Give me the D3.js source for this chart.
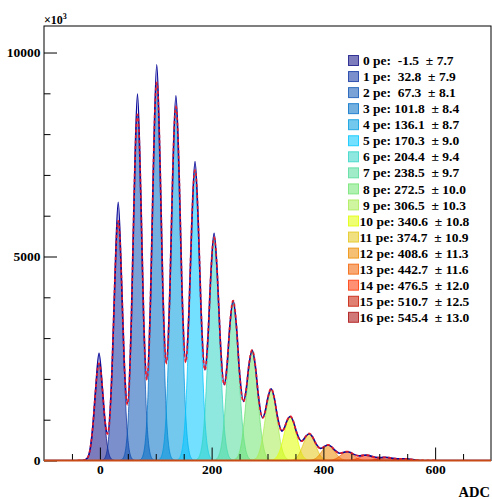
<!DOCTYPE html>
<html>
<head>
<meta charset="utf-8">
<script src="https://cdn.jsdelivr.net/npm/d3@7/dist/d3.min.js"></script>
<style>
  body { margin: 0; background: #fff; }
  svg text { font-family: "Liberation Serif", "Times New Roman", serif; font-weight: bold; fill: #000; }
</style>
</head>
<body>
<svg id="chart" width="492" height="499"></svg>
<script>
// Photo-electron peaks from the multi-gaussian fit
const peIndex = [0, 1, 2, 3, 4, 5, 6, 7, 8, 9, 10, 11, 12, 13, 14, 15, 16];
const peMeans = [-1.5, 32.8, 67.3, 101.8, 136.1, 170.3, 204.4, 238.5, 272.5, 306.5, 340.6, 374.7, 408.6, 442.7, 476.5, 510.7, 545.4];
const peSigmas = [7.7, 7.9, 8.1, 8.4, 8.7, 9.0, 9.4, 9.7, 10.0, 10.3, 10.8, 10.9, 11.3, 11.6, 12.0, 12.5, 13.0];
const peAmplitudes = [2380, 5870, 8480, 9260, 8660, 7100, 5450, 3900, 2690, 1745, 1075, 650, 375, 212, 128, 75, 40];
const peColors = ["#101085", "#0e33a2", "#0e55b4", "#006fc6", "#009be0", "#00c6ff", "#31d5c6", "#52dc9b",
                  "#6fe36f", "#a9ec52", "#e0ff00", "#e3c618", "#ec8c00", "#f26000", "#ff3500", "#c61800", "#a90909"];

// Measured ADC spectrum: [ADC, counts]
const spectrum = [
  [-100, 0], [-40, 0], [-30, 3], [-22, 69], [-17, 314], [-12.5, 858], [-7.5, 1757], [-1.5, 2630], [4.5, 1765], [9.5, 933], [13.5, 660],
  [21.8, 2255], [26.8, 4400], [32.8, 6330], [38.8, 4414], [43.8, 2357], [49.5, 1400],
  [56.3, 3446], [61.3, 6454], [67.3, 8980], [73.3, 6475], [78.3, 3558], [84.2, 1993],
  [90.8, 4052], [95.8, 7194], [101.8, 9700], [107.8, 7221], [112.8, 4165], [119.0, 2393],
  [125.1, 4096], [130.1, 6855], [136.1, 8940], [142.1, 6877], [147.1, 4153], [153.6, 2418],
  [159.3, 3611], [164.3, 5725], [170.3, 7330], [176.3, 5743], [181.3, 3632], [188.0, 2217],
  [193.4, 3010], [198.4, 4502], [204.4, 5570], [210.4, 4505], [215.4, 2976], [222.5, 1855],
  [227.5, 2318], [232.5, 3284], [238.5, 3920], [244.5, 3274], [249.5, 2242], [257.0, 1450],
  [261.5, 1703], [266.5, 2306], [272.5, 2700], [278.5, 2289], [283.5, 1613], [291.0, 1048],
  [295.5, 1179], [300.5, 1526], [306.5, 1755], [312.5, 1510], [317.5, 1097], [326.0, 720],
  [329.6, 781], [334.6, 964], [340.6, 1080], [346.6, 944], [351.6, 709], [360.6, 475],
  [363.7, 500], [368.7, 596], [374.7, 655], [380.7, 577], [385.7, 439], [395.0, 297],
  [397.6, 306], [402.6, 351], [408.6, 380], [414.6, 337], [419.6, 263], [429.5, 178],
  [436.7, 203], [442.7, 215], [448.7, 195], [453.7, 156], [464.0, 113],
  [470.5, 125], [476.5, 132], [482.5, 119], [487.5, 97], [498.0, 70],
  [504.7, 75], [510.7, 78], [516.7, 70], [521.7, 59], [532.0, 41],
  [539.4, 41], [545.4, 42], [551.4, 36], [556.4, 28], [565, 13], [570, 7], [580, 1], [590, 0], [700, 0]
];

const xMajorTicks = [0, 200, 400, 600];
const xMinorTicks = [-50, 50, 100, 150, 250, 300, 350, 450, 500, 550, 650];
const yMajorTicks = [0, 5000, 10000];
const yMinorTicks = [1000, 2000, 3000, 4000, 6000, 7000, 8000, 9000];
const xTitle = "ADC";

const svg = d3.select("#chart");
const plot = { left: 44, right: 491, top: 26, bottom: 460.5 };

const x = d3.scaleLinear().domain([-100, 700]).range([plot.left, plot.right]);
const y = d3.scaleLinear().domain([0, 10650]).range([plot.bottom, plot.top]);

const gauss = (k, v) => peAmplitudes[k] * Math.exp(-0.5 * Math.pow((v - peMeans[k]) / peSigmas[k], 2));

const clip = svg.append("clipPath").attr("id", "plotClip")
  .append("rect").attr("x", plot.left).attr("y", plot.top)
  .attr("width", plot.right - plot.left).attr("height", plot.bottom - plot.top);

const layer = svg.append("g").attr("clip-path", "url(#plotClip)");

// Individual peak components, filled and semi-transparent
peIndex.forEach(k => {
  const lo = peMeans[k] - 6 * peSigmas[k], hi = peMeans[k] + 6 * peSigmas[k];
  const xs = d3.range(lo, hi + 0.001, 0.5);
  const area = d3.area().x(v => x(v)).y0(y(0)).y1(v => y(gauss(k, v)));
  const line = d3.line().x(v => x(v)).y(v => y(gauss(k, v)));
  layer.append("path").attr("d", area(xs))
    .attr("fill", peColors[k]).attr("fill-opacity", 0.55).attr("stroke", "none");
  layer.append("path").attr("d", line(xs))
    .attr("fill", "none").attr("stroke", peColors[k]).attr("stroke-opacity", 0.75).attr("stroke-width", 1);
});

// Spectrum
layer.append("path")
  .attr("d", d3.line().x(d => x(d[0])).y(d => y(d[1])).curve(d3.curveMonotoneX)(spectrum))
  .attr("fill", "none").attr("stroke", "#0a0a9a").attr("stroke-width", 1.6);

// Total fit: sum of all components
const fitXs = d3.range(-40, 600.001, 0.5);
const totalFit = v => d3.sum(peIndex, k => gauss(k, v));
layer.append("path")
  .attr("d", d3.line().x(v => x(v)).y(v => y(totalFit(v)))(fitXs))
  .attr("fill", "none").attr("stroke", "#ff1a1a").attr("stroke-width", 1.8)
  .attr("stroke-dasharray", "3,2.5").attr("stroke-opacity", 0.85);

// Frame
svg.append("rect")
  .attr("x", plot.left).attr("y", plot.top)
  .attr("width", plot.right - plot.left).attr("height", plot.bottom - plot.top)
  .attr("fill", "none").attr("stroke", "#000").attr("stroke-width", 1);

// X axis (ticks pointing into the frame)
const xAxisMajor = d3.axisBottom(x).tickValues(xMajorTicks).tickSize(-13).tickPadding(4).tickFormat(d3.format("d"));
const xAxisMinor = d3.axisBottom(x).tickValues(xMinorTicks).tickSize(-6.5).tickFormat("");
const gx = svg.append("g").attr("transform", `translate(0,${plot.bottom})`).call(xAxisMajor);
const gxm = svg.append("g").attr("transform", `translate(0,${plot.bottom})`).call(xAxisMinor);
[gx, gxm].forEach(g => { g.select(".domain").remove(); g.selectAll("line").attr("stroke", "#000"); });
gx.selectAll("text").attr("font-size", 13.5).attr("font-family", null);

// Y axis
const yAxisMajor = d3.axisLeft(y).tickValues(yMajorTicks).tickSize(-13).tickPadding(3.5).tickFormat(d3.format("d"));
const yAxisMinor = d3.axisLeft(y).tickValues(yMinorTicks).tickSize(-6.5).tickFormat("");
const gy = svg.append("g").attr("transform", `translate(${plot.left},0)`).call(yAxisMajor);
const gym = svg.append("g").attr("transform", `translate(${plot.left},0)`).call(yAxisMinor);
[gy, gym].forEach(g => { g.select(".domain").remove(); g.selectAll("line").attr("stroke", "#000"); });
gy.selectAll("text").attr("font-size", 13.5).attr("font-family", null);

// Base line along zero
svg.append("line")
  .attr("x1", plot.left).attr("x2", plot.right)
  .attr("y1", plot.bottom).attr("y2", plot.bottom)
  .attr("stroke", "#c84a16").attr("stroke-width", 2.2);

// Axis multiplier and title
const mult = svg.append("text").attr("x", plot.left).attr("y", 24).attr("font-size", 12);
mult.append("tspan").text("×10");
mult.append("tspan").attr("dy", -5).attr("font-size", 8).text("3");

svg.append("text").attr("x", 490).attr("y", 497).attr("text-anchor", "end")
  .attr("font-size", 14.5).text(xTitle);

// Legend
const legendTop = 60.5, legendStep = 16.05;
const legend = svg.append("g");
peIndex.forEach(k => {
  const cy = legendTop + k * legendStep;
  legend.append("rect").attr("x", 348.5).attr("y", cy - 5).attr("width", 10).attr("height", 10)
    .attr("fill", peColors[k]).attr("fill-opacity", 0.55)
    .attr("stroke", peColors[k]).attr("stroke-opacity", 0.8).attr("stroke-width", 1);
  const label = `${String(peIndex[k]).padStart(2, " ")} pe: ${peMeans[k].toFixed(1).padStart(5, " ")}  ± ${peSigmas[k].toFixed(1)}`;
  legend.append("text").attr("x", 359.5).attr("y", cy + 4.6)
    .attr("font-size", 13.5).style("white-space", "pre").text(label);
});
</script>
</body>
</html>
